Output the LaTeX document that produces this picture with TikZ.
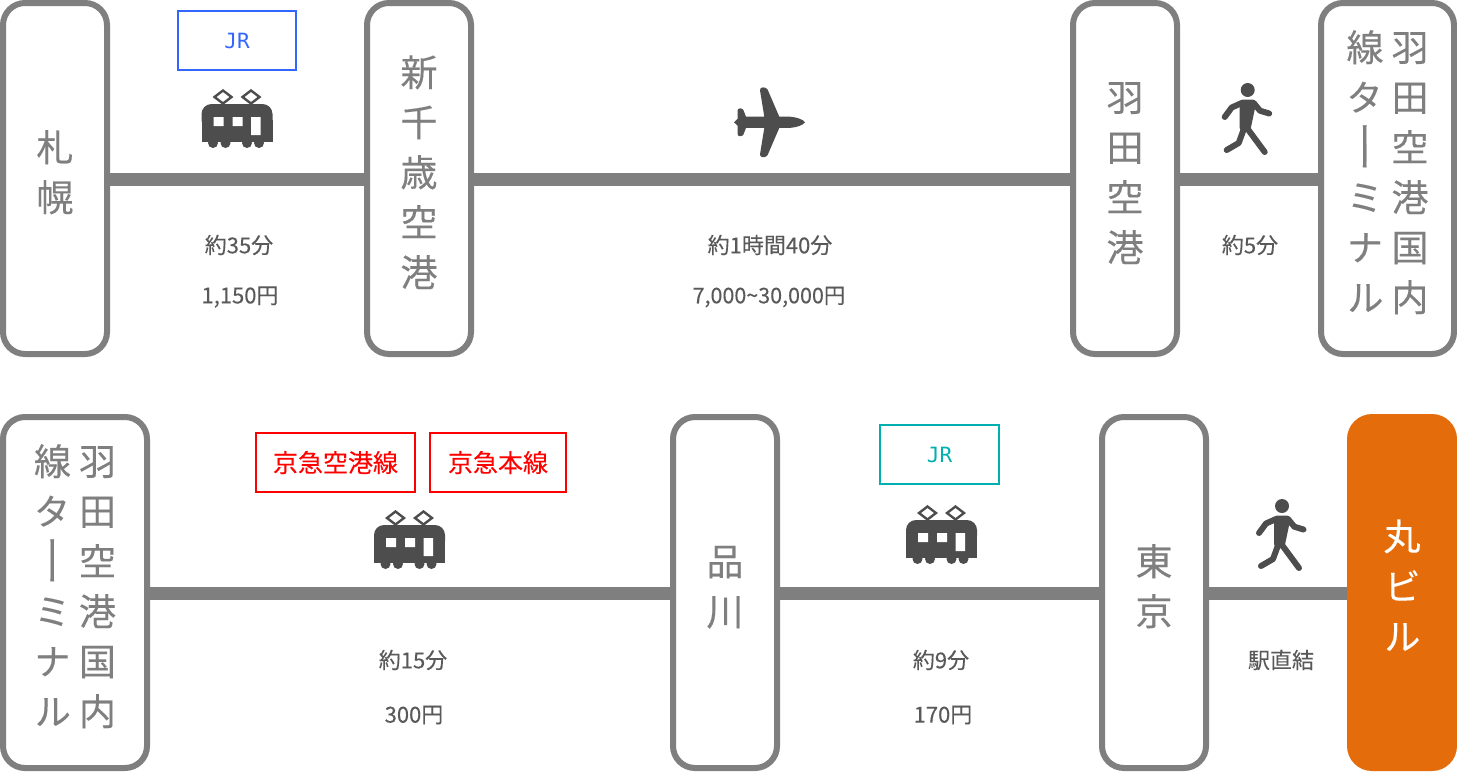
\documentclass[tikz,border=0pt]{standalone}
\usepackage{fontspec}
\usepackage{graphicx}
\setmainfont{Noto Sans CJK JP}[FakeBold=0.15]
\newfontfamily\vertjp{Noto Sans CJK JP}[RawFeature={+vert},FakeBold=0.25]
\setmonofont{DejaVu Sans Mono}
\definecolor{railgray}{HTML}{7F7F7F}
\definecolor{icongray}{HTML}{4D4D4D}
\definecolor{labelgray}{HTML}{595959}
\definecolor{jrblue}{HTML}{3366FF}
\definecolor{jrteal}{HTML}{00B0B0}
\definecolor{orangebox}{HTML}{E46C0A}
\newcommand{\stn}[1]{\raisebox{-4pt}[0pt][0pt]{\begin{tabular}{@{}c@{}}#1\end{tabular}}}
\newcommand{\longbar}{\smash{\raisebox{-6pt}{\scalebox{1}[1.45]{ー}}}}
\tikzset{
  stationbox/.style={draw=railgray,line width=6pt,fill=white,rounded corners=22pt,minimum height=351pt,inner sep=0pt,outer sep=0pt,
    text=railgray,font=\fontsize{37}{50}\selectfont\vertjp},
  destbox/.style={stationbox,draw=none,fill=orangebox,rounded corners=25pt,text=white,minimum height=357pt,minimum width=110pt},
  rail/.style={draw=railgray,line width=13pt},
  infotext/.style={text=labelgray,font=\fontsize{22}{26}\selectfont,inner sep=0pt},
  linebox/.style={draw,line width=2pt,fill=white,inner sep=0pt,outer sep=0pt,font=\fontsize{21}{26}\selectfont\ttfamily},
  redbox/.style={draw=red,line width=2pt,fill=white,text=red,inner sep=0pt,outer sep=0pt,minimum height=59pt,font=\fontsize{25}{30}\selectfont},
  trainicon/.pic={
    \fill[icongray,rounded corners=10pt] (-35.5,10) -- (-35.5,-16) -- (35.5,-16) -- (35.5,10) -- cycle;
    \fill[icongray] (-35.5,0) rectangle (35.5,22);
    \fill[icongray] (-24,23) circle (5) (-11.5,23) circle (5) (10,23) circle (5) (22,23) circle (5);
    \fill[white] (-23.5,-3) rectangle (-13.5,6) (-4.5,-3) rectangle (5.5,6) (14,-3) rectangle (23.5,15);
    \draw[icongray,line width=2.4pt,line join=miter] (-14,-29.5) -- (-5.5,-23) -- (-14,-16.5) -- (-22.5,-23) -- cycle
      (14,-29.5) -- (22.5,-23) -- (14,-16.5) -- (5.5,-23) -- cycle;
  },
  planeicon/.pic={
    \fill[icongray] (-1,0) -- (2.7,-3.5) -- (2.7,-12) .. controls (2.7,-14.5) and (7,-14.5) .. (8.3,-12.5)
      -- (11,-5.6) -- (29.3,-5.6) -- (25,-32) .. controls (24.7,-35.5) and (30,-36) .. (32.5,-33)
      -- (44.3,-5.6) -- (55,-5.6) .. controls (62,-5) and (68,-3) .. (70,0)
      .. controls (68,3) and (62,5) .. (55,5.6)
      -- (44.3,5.6) -- (32.5,33) .. controls (30,36) and (24.7,35.5) .. (25,32)
      -- (29.3,5.6) -- (11,5.6) -- (8.3,12.5) .. controls (7,14.5) and (2.7,14.5) .. (2.7,12)
      -- (2.7,3.5) -- cycle;
  },
  walkericon/.pic={
    \fill[icongray] (0,0) circle (7);
    \fill[icongray,rounded corners=3pt] (-8,9.5) -- (8,9.5) -- (8,15) -- (2.5,41) -- (-8,41) -- (-8,20) -- cycle;
    \draw[icongray,line width=6pt,line cap=round,line join=round,fill=none]
      (-6,13) -- (-16,17.5) -- (-23,27)
      (6,13) -- (12.3,20.7) -- (21.5,23.5)
      (-3.5,38) -- (-9,53) -- (-21,60)
      (0,39) -- (17,62);
  },
}
\begin{document}
\begin{tikzpicture}[x=1pt,y=-1pt]
\useasboundingbox (0,0) rectangle (1457,772);
% top row stations
\node[stationbox,minimum width=104pt] (sapporo) at (55,178.5) {\stn{札\\幌}};
\node[stationbox,minimum width=104pt] (chitose) at (419,178.5) {\stn{新\\千\\歳\\空\\港}};
\node[stationbox,minimum width=104pt] (haneda) at (1125,178.5) {\stn{羽\\田\\空\\港}};
\node[stationbox,minimum width=133pt] (term1) at (1387.5,178.5) {\stn{線\hspace{8pt}羽\\タ\hspace{8pt}田\\\longbar\hspace{8pt}空\\ミ\hspace{8pt}港\\ナ\hspace{8pt}国\\ル\hspace{8pt}内}};
% bottom row stations
\node[stationbox,minimum width=144pt] (term2) at (75,592.5) {\stn{線\hspace{8pt}羽\\タ\hspace{8pt}田\\\longbar\hspace{8pt}空\\ミ\hspace{8pt}港\\ナ\hspace{8pt}国\\ル\hspace{8pt}内}};
\node[stationbox,minimum width=104pt] (shinagawa) at (725,592.5) {\stn{品\\川}};
\node[stationbox,minimum width=104pt] (tokyo) at (1154,592.5) {\stn{東\\京}};
\node[destbox] (maru) at (1402,592.5) {\stn{丸\\ビ\\ル}};
% connectors
\draw[rail] ([yshift=-0.8pt]sapporo.east) -- ([yshift=-0.8pt]chitose.west);
\draw[rail] ([yshift=-0.8pt]chitose.east) -- ([yshift=-0.8pt]haneda.west);
\draw[rail] ([yshift=-0.8pt]haneda.east) -- ([yshift=-0.8pt]term1.west);
\draw[rail] ([yshift=-0.8pt]term2.east) -- ([yshift=-0.8pt]shinagawa.west);
\draw[rail] ([yshift=-0.8pt]shinagawa.east) -- ([yshift=-0.8pt]tokyo.west);
\draw[rail] ([yshift=-0.8pt]tokyo.east) -- ([yshift=-0.8pt]maru.west);
% line boxes
\node[linebox,draw=jrblue,text=jrblue,minimum width=118pt,minimum height=59pt] (jr1) at (237,40.5) {JR};
\node[linebox,draw=jrteal,text=jrteal,minimum width=119pt,minimum height=59pt] (jr2) at (939.5,454.5) {JR};
\node[redbox,minimum width=159pt] (keikyu1) at (335.5,462.5) {京急空港線};
\node[redbox,minimum width=136pt] (keikyu2) at (498,462.5) {京急本線};
% icons
\pic at (237,120) {trainicon};
\pic at (409.5,541) {trainicon};
\pic at (941.5,536) {trainicon};
\pic at (735,122.3) {planeicon};
\pic at (1247.7,90) {walkericon};
\pic at (1282,506) {walkericon};
% labels
\node[infotext] (t1a) at (239,245) {約35分};
\node[infotext] (t1b) at (240,297) {1,150円};
\node[infotext] (t2a) at (770,245) {約1時間40分};
\node[infotext,font=\fontsize{21.5}{26}\selectfont] (t2b) at (769,297) {7,000\char`\~30,000円};
\node[infotext] (t3a) at (1250,245) {約5分};
\node[infotext] (t4a) at (413,660) {約15分};
\node[infotext] (t4b) at (414,715) {300円};
\node[infotext] (t5a) at (941,660) {約9分};
\node[infotext] (t5b) at (943,715) {170円};
\node[infotext] (t6a) at (1281,660) {駅直結};
\end{tikzpicture}
\end{document}
